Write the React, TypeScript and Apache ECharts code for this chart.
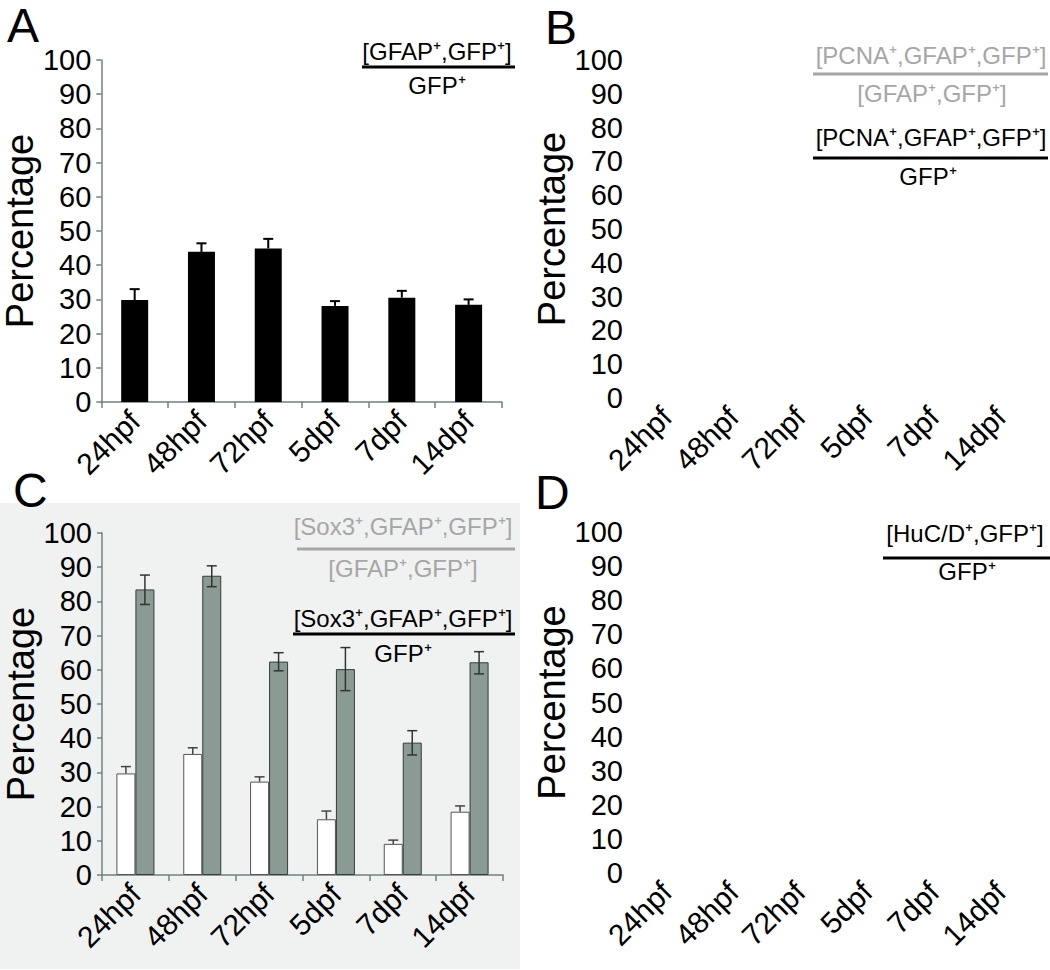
import * as echarts from "echarts";
import { useEffect, useRef } from "react";

const categories = ["24hpf", "48hpf", "72hpf", "5dpf", "7dpf", "14dpf"];

// panel A: [GFAP+,GFP+] / GFP+
const gfapValues = [29.8, 43.9, 44.9, 28.1, 30.5, 28.4];
const gfapErrTop = [33.0, 46.4, 47.7, 29.5, 32.5, 30.0];

// panel C: white bars = [Sox3+,GFAP+,GFP+] / GFP+
const sox3GfpValues = [29.7, 35.4, 27.3, 16.3, 9.1, 18.5];
const sox3GfpErrTop = [31.7, 37.2, 28.7, 18.7, 10.2, 20.2];

// panel C: grey bars = [Sox3+,GFAP+,GFP+] / [GFAP+,GFP+]
const sox3GfapValues = [83.5, 87.5, 62.4, 60.2, 38.7, 62.2];
const sox3GfapErrTop = [87.7, 90.4, 65.0, 66.5, 42.2, 65.3];
const sox3GfapErrLow = [79.1, 84.3, 59.7, 53.9, 35.1, 58.8];

const FONT = '"Liberation Sans", Arial, sans-serif';
const AXIS_COLOR = "#6d8383";
const GREY_TEXT = "#a6a6a6";
const C_BAR_W = 19;

function errorBars(
  gridIdx: number,
  lows: number[],
  highs: number[],
  offset: number,
  color: string,
  width: number,
  bothCaps: boolean,
) {
  return {
    type: "custom",
    xAxisIndex: gridIdx,
    yAxisIndex: gridIdx,
    z: 5,
    data: lows.map((lo, i) => [i, lo, highs[i]]),
    renderItem: (_params: any, api: any) => {
      const top = api.coord([api.value(0), api.value(2)]);
      const bot = api.coord([api.value(0), api.value(1)]);
      const cx = top[0] + offset;
      const half = 5;
      const style = { stroke: color, lineWidth: width };
      const children: any[] = [
        { type: "line", shape: { x1: cx, y1: top[1], x2: cx, y2: bot[1] }, style },
        { type: "line", shape: { x1: cx - half, y1: top[1], x2: cx + half, y2: top[1] }, style },
      ];
      if (bothCaps) {
        children.push({
          type: "line",
          shape: { x1: cx - half, y1: bot[1], x2: cx + half, y2: bot[1] },
          style,
        });
      }
      return { type: "group", children };
    },
  };
}

function xAxis(gridIndex: number, showLine: boolean) {
  return {
    type: "category",
    gridIndex,
    data: categories,
    axisLine: { show: showLine, lineStyle: { color: AXIS_COLOR, width: 1.5 } },
    axisTick: { show: showLine, length: 6, lineStyle: { color: AXIS_COLOR, width: 1.5 } },
    axisLabel: {
      rotate: 45,
      margin: 14,
      color: "#000",
      fontSize: 30,
      fontFamily: FONT,
    },
    splitLine: { show: false },
  };
}

function yAxis(gridIndex: number, showLine: boolean) {
  return {
    type: "value",
    gridIndex,
    min: 0,
    max: 100,
    interval: 10,
    name: "Percentage",
    nameLocation: "middle",
    nameRotate: 90,
    nameGap: 55,
    nameTextStyle: { color: "#000", fontSize: 38, fontFamily: FONT },
    axisLine: { show: showLine, lineStyle: { color: AXIS_COLOR, width: 1.5 } },
    axisTick: { show: showLine, length: 5, lineStyle: { color: AXIS_COLOR, width: 1.5 } },
    axisLabel: { color: "#000", fontSize: 29, fontFamily: FONT, margin: 10 },
    splitLine: { show: false },
  };
}

function label(text: string, x: number, y: number, size: number, color = "#000") {
  return {
    type: "text",
    x,
    y,
    style: {
      text,
      fill: color,
      font: `${size}px ${FONT}`,
      textAlign: "center",
      textVerticalAlign: "middle",
      align: "center",
      verticalAlign: "middle",
    },
  };
}

function rule(x1: number, x2: number, y: number, color = "#000") {
  return {
    type: "line",
    shape: { x1, y1: y, x2, y2: y },
    style: { stroke: color, lineWidth: 3 },
  };
}

function panelLetter(text: string, x: number, y: number) {
  return {
    type: "text",
    x,
    y,
    style: { text, fill: "#000", font: `48px ${FONT}` },
  };
}

export default function App() {
  const ref = useRef<HTMLDivElement>(null);

  useEffect(() => {
    if (!ref.current) return;
    const chart = echarts.init(ref.current, undefined, { renderer: "svg" });

    chart.setOption({
      animation: false,
      backgroundColor: "#fff",
      grid: [
        { left: 101, top: 60, width: 401, height: 342 },
        { left: 633, top: 60, width: 401, height: 338 },
        { left: 102, top: 533, width: 401, height: 342 },
        { left: 633, top: 532, width: 401, height: 341 },
      ],
      xAxis: [xAxis(0, true), xAxis(1, false), xAxis(2, true), xAxis(3, false)],
      yAxis: [yAxis(0, true), yAxis(1, false), yAxis(2, true), yAxis(3, false)],
      graphic: [
        {
          type: "rect",
          z: -10,
          shape: { x: 0, y: 503, width: 520, height: 466 },
          style: { fill: "#f0f2f1" },
        },
        panelLetter("A", 7, 1),
        panelLetter("B", 545, 3),
        panelLetter("C", 13, 466),
        panelLetter("D", 535, 468),

        label("[GFAP⁺,GFP⁺]", 437, 51, 24),
        rule(362, 515, 67),
        label("GFP⁺", 437, 85, 24),

        label("[PCNA⁺,GFAP⁺,GFP⁺]", 931, 55, 24, GREY_TEXT),
        rule(813, 1048, 74, GREY_TEXT),
        label("[GFAP⁺,GFP⁺]", 932, 93, 24, GREY_TEXT),
        label("[PCNA⁺,GFAP⁺,GFP⁺]", 931, 137, 24),
        rule(813, 1048, 158),
        label("GFP⁺", 928, 176, 24),

        label("[Sox3⁺,GFAP⁺,GFP⁺]", 403, 526, 24, GREY_TEXT),
        rule(297, 515, 549, GREY_TEXT),
        label("[GFAP⁺,GFP⁺]", 403, 568, 24, GREY_TEXT),
        label("[Sox3⁺,GFAP⁺,GFP⁺]", 403, 618, 24),
        rule(293, 515, 634),
        label("GFP⁺", 403, 653, 24),

        label("[HuC/D⁺,GFP⁺]", 965, 533, 24),
        rule(883, 1050, 558),
        label("GFP⁺", 967, 571, 24),
      ],
      series: [
        {
          name: "[GFAP+,GFP+]/GFP+",
          type: "bar",
          xAxisIndex: 0,
          yAxisIndex: 0,
          barWidth: 27,
          itemStyle: { color: "#000" },
          data: gfapValues,
        },
        errorBars(0, gfapValues, gfapErrTop, 0, "#000", 2, false),
        {
          name: "[Sox3+,GFAP+,GFP+]/GFP+",
          type: "bar",
          xAxisIndex: 2,
          yAxisIndex: 2,
          barWidth: C_BAR_W,
          barGap: "0%",
          itemStyle: { color: "#fff", borderColor: "#555", borderWidth: 1 },
          data: sox3GfpValues,
        },
        {
          name: "[Sox3+,GFAP+,GFP+]/[GFAP+,GFP+]",
          type: "bar",
          xAxisIndex: 2,
          yAxisIndex: 2,
          barWidth: C_BAR_W,
          barGap: "0%",
          itemStyle: { color: "#8a9b93", borderColor: "#3a3a3a", borderWidth: 1 },
          data: sox3GfapValues,
        },
        errorBars(2, sox3GfpValues, sox3GfpErrTop, -C_BAR_W / 2, "#444", 1.5, false),
        errorBars(2, sox3GfapErrLow, sox3GfapErrTop, C_BAR_W / 2, "#333", 1.5, true),
      ],
    });

    return () => chart.dispose();
  }, []);

  return (
    <div
      ref={ref}
      style={{ position: "absolute", left: 0, top: 0, width: 1050, height: 970 }}
    />
  );
}
